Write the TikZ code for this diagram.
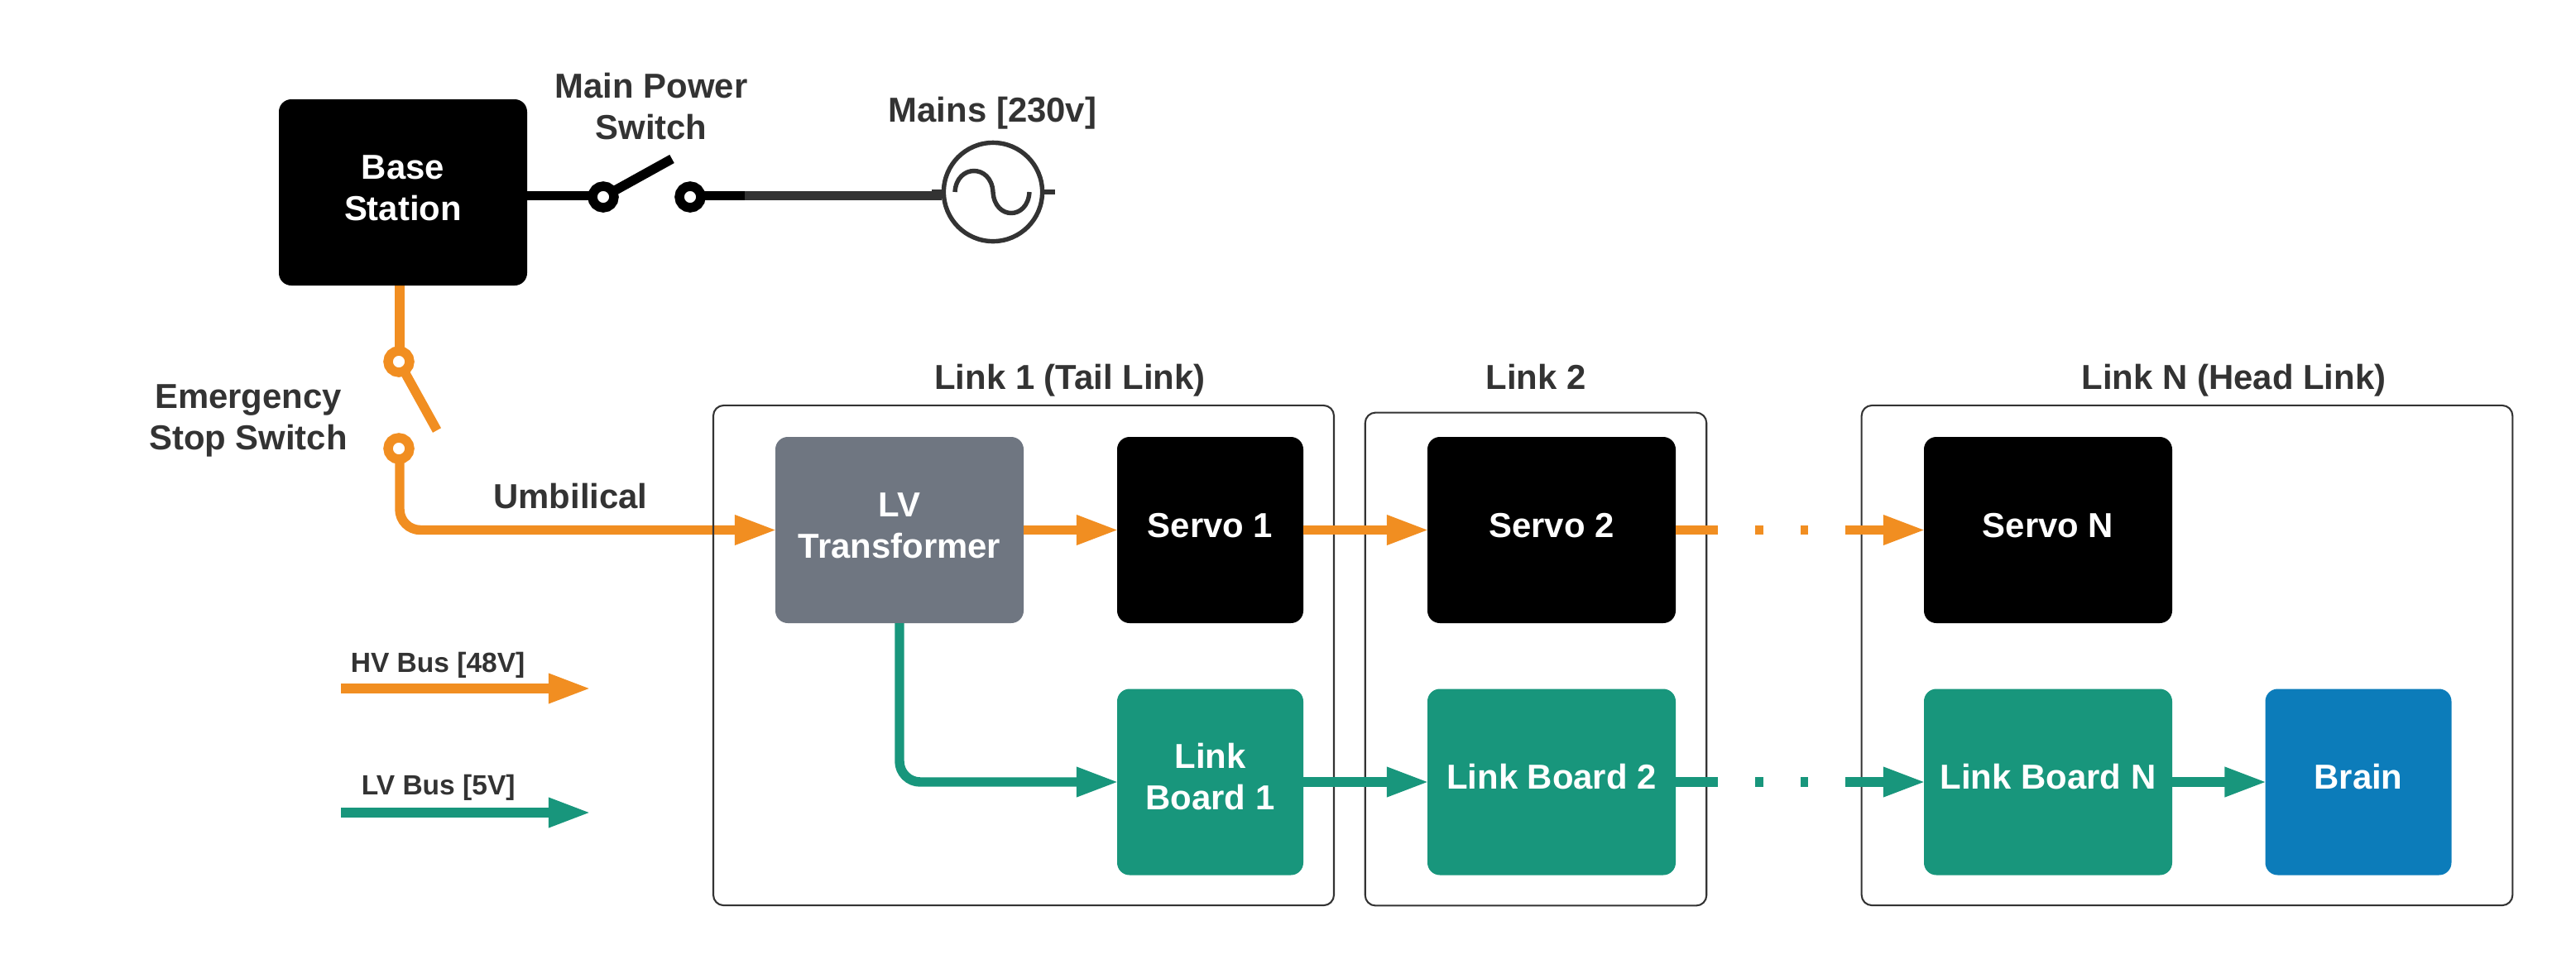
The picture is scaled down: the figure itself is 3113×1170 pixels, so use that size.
\documentclass[tikz,border=0pt]{standalone}
\usepackage{fontspec}
\setmainfont{Liberation Sans}
\usetikzlibrary{arrows.meta,calc,backgrounds}
\definecolor{hvc}{HTML}{F18E21}
\definecolor{lvc}{HTML}{18967C}
\definecolor{greyc}{HTML}{6F7681}
\definecolor{bluec}{HTML}{0C7CBA}
\definecolor{darkc}{HTML}{333333}
\newcommand\lift[1]{\raisebox{0.3pt}[\height][\depth]{\begin{tabular}{@{}c@{}}#1\end{tabular}}}
\tikzset{
  x=0.24pt,y=-0.24pt,
  head/.style={-{Triangle[length=12.3pt,width=8pt,sep=-0.5pt]}},
  wire/.style={line width=2.75pt},
  hv/.style={wire,hvc,head},
  lv/.style={wire,lvc,head},
  hvplain/.style={wire,hvc},
  blk/.style={wire,black},
  box/.style={rectangle,rounded corners=3.6pt,inner sep=0pt,outer sep=0pt,text=white,
    font=\fontsize{10.05}{12}\selectfont\bfseries},
  big/.style={box,minimum width=72pt,minimum height=54pt},
  small/.style={box,minimum width=54pt,minimum height=54pt},
  servo/.style={fill=black},
  board/.style={fill=lvc},
  frame/.style={draw=darkc,line width=0.5pt,rounded corners=3pt,rectangle,inner sep=0pt,outer sep=0pt},
  lbl/.style={text=darkc,anchor=base,inner sep=0pt,align=center,font=\fontsize{10.05}{12}\selectfont\bfseries},
  lgd/.style={text=darkc,anchor=base west,inner sep=0pt,font=\fontsize{8.05}{10}\selectfont\bfseries},
  term/.style={circle,draw,fill=white,line width=2.75pt,minimum size=6.24pt,inner sep=0pt},
  dots/.style={dash pattern=on 12.24pt off 10.8pt on 2.4pt off 10.8pt on 2.16pt off 10.8pt on 30pt},
}
\begin{document}
\begin{tikzpicture}
\useasboundingbox (0,0) rectangle (3113,1170);
% link frames
\node[frame,minimum width=180pt,minimum height=145pt] (f1) at (1237,792) {};
\node[frame,minimum width=99pt,minimum height=143pt] (f2) at (1856,796.5) {};
\node[frame,minimum width=188.8pt,minimum height=145pt] (fn) at (2643,792) {};
\node[lbl] (f1l) at (1293,470) {Link 1 (Tail Link)};
\node[lbl] (f2l) at (1856,470) {Link 2};
\node[lbl] (fnl) at (2699.5,470) {Link N (Head Link)};
% blocks
\node[box,fill=black,minimum width=72pt,minimum height=54pt] (bs) at (487,232.5) {\lift{Base\\Station}};
\node[big,fill=greyc] (lvt) at (1087,640.5) {\lift{LV\\Transformer}};
\node[small,servo] (s1) at (1462.5,640.5) {\lift{Servo 1}};
\node[big,servo] (s2) at (1875,640.5) {\lift{Servo 2}};
\node[big,servo] (sn) at (2475,640.5) {\lift{Servo N}};
\node[small,board] (b1) at (1462.5,945) {\lift{Link\\Board 1}};
\node[big,board] (b2) at (1875,945) {\lift{Link Board 2}};
\node[big,board] (bn) at (2475,945) {\lift{Link Board N}};
\node[small,fill=bluec] (br) at (2850,945) {\lift{Brain}};
% main power switch
\node[term] (sw1) at (729,238) {};
\node[term] (sw2) at (834,238) {};
\coordinate (swtip) at (812,192);
\coordinate (wj) at (900,236.5);
\begin{scope}[on background layer]
\draw[blk] (bs.east |- wj) -- (sw1.center |- wj);
\draw[blk] (sw1.center) -- (swtip);
\draw[blk] (sw2.center |- wj) -- (wj);
\draw[hvplain] (483,345) -- (483,437);
\end{scope}
\node[lbl] (mps) at (787,168) {Main Power\\[0pt]Switch};
% mains source
\node[circle,draw=darkc,line width=1.3pt,minimum size=28.6pt,inner sep=0pt] (src) at (1200,232) {};
\draw[wire,darkc] (wj) -- (src.west |- wj);
\draw[darkc,line width=1.4pt] (src.west) -- ++(-12,0);
\draw[darkc,line width=1.4pt] (src.east) -- ++(13,0);
\draw[darkc,line width=1.3pt] (1154,232) .. controls (1156,198) and (1198,198) .. (1200,232)
  .. controls (1202,266) and (1242,266) .. (1244,232);
\node[lbl] (mains) at (1199.5,147) {Mains [230v]};
% emergency stop
\node[term,draw=hvc] (em1) at (482,437) {};
\node[term,draw=hvc] (em2) at (482,542) {};
\coordinate (emtip) at (528,520);
\begin{scope}[on background layer]
\draw[hvplain] (em1.center) -- (emtip);
\draw[hv,rounded corners=6pt] ([xshift=0.24pt]em2.center) |- (lvt.west);
\end{scope}
\node[lbl] (ess) at (300,543) {Emergency\\[0pt]Stop Switch};
\node[lbl] (umb) at (689.5,614) {Umbilical};
% HV bus
\draw[hv] (lvt.east) -- (s1.west);
\draw[hv] (s1.east) -- (s2.west);
\draw[hv,dots] (s2.east) -- (sn.west);
% LV bus
\draw[lv,rounded corners=6pt] (lvt.south) |- (b1.west);
\draw[lv] (b1.east) -- (b2.west);
\draw[lv,dots] (b2.east) -- (bn.west);
\draw[lv] (bn.east) -- (br.west);
% legend
\coordinate (hva) at (412,832);
\coordinate (hvb) at (712,832);
\coordinate (lva) at (412,982);
\coordinate (lvb) at (712,982);
\draw[hv] (hva) -- (hvb);
\draw[lv] (lva) -- (lvb);
\node[lgd] (hvt) at (423,812) {HV Bus [48V]};
\node[lgd] (lvt2) at (436,960) {LV Bus [5V]};
\end{tikzpicture}
\end{document}
